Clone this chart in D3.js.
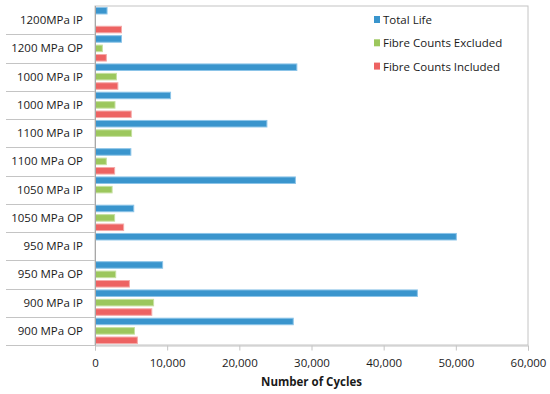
<!DOCTYPE html>
<html>
<head>
<meta charset="utf-8">
<script src="https://cdn.jsdelivr.net/npm/d3@7"></script>
<style>
  body { margin: 0; background: #fff; }
  svg { font-family: 'Open Sans', sans-serif; }
</style>
</head>
<body>
<div id="vis"></div>
<script>
// categories, top to bottom as in the chart
var categories = ['1200MPa IP', '1200 MPa OP', '1000 MPa IP', '1000 MPa IP', '1100 MPa IP', '1100 MPa OP',
  '1050 MPa IP', '1050 MPa OP', '950 MPa IP', '950 MPa OP', '900 MPa IP', '900 MPa OP'];
var seriesNames = ['Total Life', 'Fibre Counts Excluded', 'Fibre Counts Included'];
var totalLife = [1600, 3600, 27900, 10400, 23750, 4900, 27700, 5300, 50000, 9300, 44600, 27400];
var fibreExcluded = [0, 950, 2900, 2700, 5000, 1500, 2300, 2650, 0, 2800, 8050, 5400];
var fibreIncluded = [3600, 1500, 3100, 4950, 0, 2650, 0, 3900, 0, 4700, 7800, 5800];
var xTicks = [0, 10000, 20000, 30000, 40000, 50000, 60000];

var colors = ['#3a95cd', '#9cc75d', '#ed6362'];
var edges = ['#8cc4e8', '#c6e0a0', '#f5a9a8'];

var width = 550, height = 394;
var margin = {top: 6, right: 22, bottom: 49, left: 95};

var svg = d3.select('#vis').append('svg')
  .attr('width', width)
  .attr('height', height);

var x = d3.scaleLinear()
  .domain([0, 60000])
  .range([margin.left, width - margin.right]);

var idx = d3.range(categories.length);
var y = d3.scaleBand()
  .domain(idx)
  .range([margin.top, height - margin.bottom]);

var ySub = d3.scaleBand()
  .domain([0, 1, 2])
  .range([0, y.bandwidth()])
  .paddingInner(0.2)
  .paddingOuter(0.1);

var series = [totalLife, fibreExcluded, fibreIncluded];

// plot frame
svg.append('rect')
  .attr('x', x(0))
  .attr('y', margin.top)
  .attr('width', x(60000) - x(0))
  .attr('height', height - margin.bottom - margin.top)
  .attr('fill', 'none')
  .attr('stroke', '#c4c4c4')
  .attr('stroke-width', 1);

// category separator ticks spanning the label area
svg.append('g').selectAll('line')
  .data(idx)
  .enter().append('line')
  .attr('x1', 6)
  .attr('x2', x(0))
  .attr('y1', function (i) { return Math.round(y(i) + y.bandwidth()) + 0.5; })
  .attr('y2', function (i) { return Math.round(y(i) + y.bandwidth()) + 0.5; })
  .attr('stroke', '#c4c4c4');

// bars (zero values are not drawn)
series.forEach(function (vals, s) {
  var pts = vals.map(function (v, i) { return {i: i, v: v}; })
    .filter(function (d) { return d.v > 0; });
  svg.append('g').selectAll('rect')
    .data(pts)
    .enter().append('rect')
    .attr('x', x(0) + 0.5)
    .attr('y', function (d) { return y(d.i) + ySub(s) + 0.5; })
    .attr('width', function (d) { return x(d.v) - x(0); })
    .attr('height', ySub.bandwidth() - 1)
    .attr('fill', colors[s])
    .attr('stroke', edges[s])
    .attr('stroke-width', 1);
});

// left axis line
svg.append('line')
  .attr('x1', x(0) + 0.5).attr('x2', x(0) + 0.5)
  .attr('y1', margin.top).attr('y2', height - margin.bottom + 5)
  .attr('stroke', '#a8a8a8');

// category labels
svg.append('g').selectAll('text')
  .data(idx)
  .enter().append('text')
  .attr('x', 83)
  .attr('y', function (i) { return y(i) + y.bandwidth() / 2; })
  .attr('dy', '0.35em')
  .attr('text-anchor', 'end')
  .attr('font-size', 11.5)
  .attr('fill', '#1a1a1a')
  .text(function (i) { return categories[i]; });

// x axis
var xAxis = d3.axisBottom(x)
  .tickValues(xTicks)
  .tickSize(5)
  .tickPadding(8)
  .tickFormat(d3.format(','));

var gx = svg.append('g')
  .attr('transform', 'translate(0,' + (height - margin.bottom + 0.5) + ')')
  .call(xAxis);
gx.select('.domain').attr('stroke', '#c4c4c4');
gx.selectAll('.tick line').attr('stroke', '#c4c4c4');
gx.selectAll('.tick text')
  .attr('font-size', 11.5)
  .attr('font-family', "'Open Sans', sans-serif")
  .attr('fill', '#1a1a1a');

svg.append('text')
  .attr('x', x(30000))
  .attr('y', 386)
  .attr('text-anchor', 'middle')
  .attr('font-size', 11.5)
  .attr('font-weight', 'bold')
  .attr('fill', '#1a1a1a')
  .text('Number of Cycles');

// legend
var legend = svg.append('g').attr('transform', 'translate(374,16)');
seriesNames.forEach(function (name, s) {
  var row = legend.append('g').attr('transform', 'translate(0,' + (s * 23.3) + ')');
  row.append('rect')
    .attr('width', 6).attr('height', 7)
    .attr('fill', colors[s]);
  row.append('text')
    .attr('x', 9)
    .attr('y', 4)
    .attr('dy', '0.35em')
    .attr('font-size', 11.5)
    .attr('fill', '#1a1a1a')
    .text(name);
});
</script>
</body>
</html>
